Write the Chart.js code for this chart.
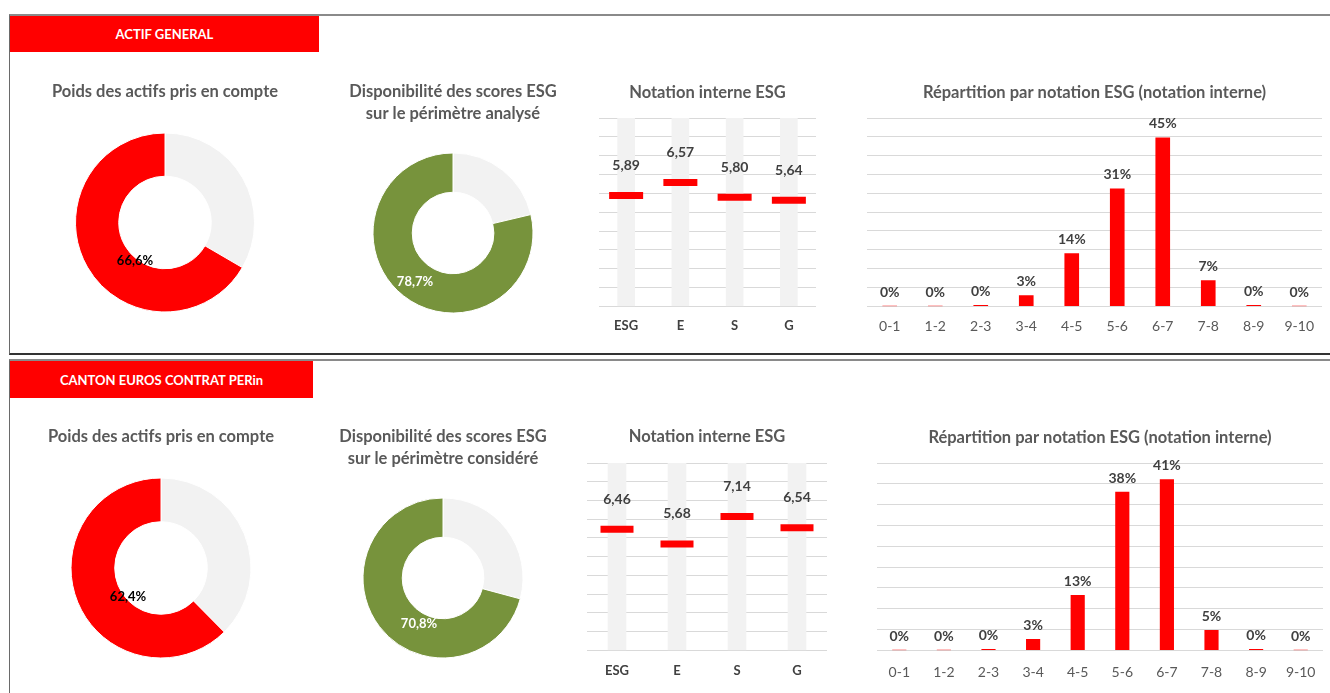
<!DOCTYPE html>
<html><head><meta charset="utf-8">
<script src="https://cdn.jsdelivr.net/npm/chart.js@4.4.1/dist/chart.umd.min.js"></script>
<style>
html,body{margin:0;padding:0;background:#fff;width:1330px;height:693px;overflow:hidden;font-family:Lato,sans-serif;}
.frame{position:absolute;box-sizing:border-box;}
.hdr{position:absolute;background:#ff0000;color:#fff;font:bold 13px Lato,sans-serif;display:flex;align-items:center;justify-content:center;}
.cv{position:absolute;}
</style></head><body>
<div class="frame" style="left:9px;top:14px;width:1340px;height:341px;border-top:2px solid #8a8a8a;border-left:1px solid #6a6a6a;border-bottom:2px solid #333;"></div>
<div class="frame" style="left:9px;top:359px;width:1340px;height:400px;border-top:2px solid #8a8a8a;border-left:1px solid #6a6a6a;"></div>
<div class="hdr" id="h0" style="left:10px;top:16px;width:309px;height:36px;"></div>
<div class="hdr" id="h1" style="left:10px;top:361px;width:303px;height:37px;"></div>

<div class="cv" style="left:20px;top:75px;width:290px;height:237px;"><canvas id="d1a"></canvas></div>
<div class="cv" style="left:338px;top:75px;width:230px;height:238px;"><canvas id="d2a"></canvas></div>
<div class="cv" style="left:591px;top:75px;width:233px;height:271px;"><canvas id="n_a"></canvas></div>
<div class="cv" style="left:857px;top:75px;width:475px;height:272px;"><canvas id="h_a"></canvas></div>

<div class="cv" style="left:16px;top:420px;width:290px;height:238px;"><canvas id="d1b"></canvas></div>
<div class="cv" style="left:328px;top:420px;width:230px;height:238px;"><canvas id="d2b"></canvas></div>
<div class="cv" style="left:579px;top:420px;width:256px;height:272px;"><canvas id="n_b"></canvas></div>
<div class="cv" style="left:867px;top:420px;width:466px;height:275px;"><canvas id="h_b"></canvas></div>

<script>
// ---------- DATA ----------
const panelNames = ['ACTIF GENERAL', 'CANTON EUROS CONTRAT PERin'];
const weightTitle = 'Poids des actifs pris en compte';
const availTitles = [['Disponibilité des scores ESG', 'sur le périmètre analysé'],
                     ['Disponibilité des scores ESG', 'sur le périmètre considéré']];
const scoreTitle = 'Notation interne ESG';
const distTitle = 'Répartition par notation ESG (notation interne)';

const weightCovered = [66.6, 62.4];        // % of assets taken into account
const scoreAvailability = [78.7, 70.8];    // % with ESG score available

const pillars = ['ESG', 'E', 'S', 'G'];
const scoreTrack = [10, 10, 10, 10];       // full-scale grey background columns
const scoresActif = [5.89, 6.57, 5.80, 5.64];
const scoresCanton = [6.46, 5.68, 7.14, 6.54];

const buckets = ['0-1', '1-2', '2-3', '3-4', '4-5', '5-6', '6-7', '7-8', '8-9', '9-10'];
const distActif = [0, 0, 0.002, 0.028, 0.14, 0.312, 0.447, 0.068, 0.002, 0];
const distCanton = [0, 0, 0.002, 0.026, 0.132, 0.38, 0.41, 0.048, 0.002, 0];

// ---------- STYLE ----------
const RED = '#ff0000', GREEN = '#77933c', LIGHT = '#f2f2f2', GRID = '#d9d9d9';
const TITLE_C = '#595959', LABEL_C = '#404040';
const FONT = 'Lato';
const TSIZE = 16.5;
document.getElementById('h0').textContent = panelNames[0];
document.getElementById('h1').textContent = panelNames[1];

const vlabels = {
  id: 'vlabels',
  afterDatasetsDraw(chart, args, o) {
    const ctx = chart.ctx;
    const meta = chart.getDatasetMeta(o.ds);
    const data = chart.data.datasets[o.ds].data;
    ctx.save();
    ctx.font = 'bold ' + o.size + 'px ' + FONT;
    ctx.fillStyle = o.color;
    ctx.textAlign = 'center';
    ctx.textBaseline = 'middle';
    meta.data.forEach((el, i) => {
      if (o.only !== undefined && o.only !== i) return;
      const v = data[i];
      let txt, x = el.x, y;
      if (o.kind === 'score') { txt = v.toFixed(2).replace('.', ','); y = el.y - o.dy; }
      else if (o.kind === 'pct') { txt = Math.round(v * 100) + '%'; y = el.y - o.dy; }
      else { txt = v.toFixed(1).replace('.', ',') + '%'; x = el.x + o.dx; y = el.y + o.dy; }
      ctx.fillText(txt, x, y);
    });
    ctx.restore();
  }
};

Chart.defaults.font.family = FONT;
Chart.defaults.animation = false;
Chart.defaults.events = [];

function titleOpt(text, top, bottom) {
  const two = Array.isArray(text);
  return { display: true, text, color: TITLE_C,
    font: { family: FONT, size: TSIZE, weight: 'bold', lineHeight: two ? 22 / TSIZE : 1.2 },
    padding: { top, bottom } };
}

function doughnut(id, value, color, lblColor, title, T, B, cutout, radius, dx, dy) {
  new Chart(document.getElementById(id), {
    type: 'doughnut',
    data: { labels: ['Non couvert', 'Couvert'],
      datasets: [{ data: [100 - value, value], backgroundColor: [LIGHT, color],
        borderColor: '#ffffff', borderWidth: 1, hoverOffset: 0, offset: 0 }] },
    options: { responsive: true, maintainAspectRatio: false, cutout, radius,
      layout: { padding: 0, autoPadding: false },
      plugins: { legend: { display: false }, tooltip: { enabled: false },
        title: titleOpt(title, T, B),
        vlabels: { ds: 0, only: 1, kind: 'pctd', size: 13, color: lblColor, dx, dy } } },
    plugins: [vlabels]
  });
}

function notation(id, values, T, B, tickPad, thick, mark) {
  new Chart(document.getElementById(id), {
    data: { labels: pillars, datasets: [
      { type: 'line', data: values, showLine: false, pointStyle: 'line', pointRadius: mark,
        pointBorderWidth: 7, pointBorderColor: RED, pointBackgroundColor: RED, borderColor: RED, order: 0 },
      { type: 'bar', data: scoreTrack, backgroundColor: LIGHT, barThickness: thick, order: 1 }
    ] },
    options: { responsive: true, maintainAspectRatio: false,
      layout: { padding: { left: 8, right: 8, top: 0, bottom: 0 }, autoPadding: false },
      scales: {
        x: { offset: true, grid: { display: false, drawTicks: false }, border: { display: false },
          ticks: { color: LABEL_C, font: { size: 13, weight: 'bold' }, padding: tickPad } },
        y: { min: 0, max: 10, ticks: { display: false, stepSize: 1 },
          grid: { color: GRID, drawTicks: false }, border: { display: false } } },
      plugins: { legend: { display: false }, tooltip: { enabled: false },
        title: titleOpt(scoreTitle, T, B),
        vlabels: { ds: 0, kind: 'score', size: 14, color: LABEL_C, dy: 30 } } },
    plugins: [vlabels]
  });
}

function histo(id, values, max, T, B, tickPad, thick) {
  new Chart(document.getElementById(id), {
    type: 'bar',
    data: { labels: buckets, datasets: [{ data: values, backgroundColor: RED, barThickness: thick }] },
    options: { responsive: true, maintainAspectRatio: false,
      layout: { padding: { left: 10, right: 10, top: 0, bottom: 0 }, autoPadding: false },
      scales: {
        x: { grid: { display: false, drawTicks: false }, border: { display: false },
          ticks: { color: TITLE_C, font: { size: 14 }, padding: tickPad } },
        y: { min: 0, max, ticks: { display: false, stepSize: 0.05 },
          grid: { color: GRID, drawTicks: false }, border: { display: false } } },
      plugins: { legend: { display: false }, tooltip: { enabled: false },
        title: titleOpt(distTitle, T, B),
        vlabels: { ds: 0, kind: 'pct', size: 14, color: LABEL_C, dy: 14 } } },
    plugins: [vlabels]
  });
}

doughnut('d1a', weightCovered[0], RED, '#000', weightTitle, 7, 31.2, 46, 89.5, -30, 38);
doughnut('d2a', scoreAvailability[0], GREEN, '#fff', availTitles[0], 6, 28, 40.5, 80, -38, 49);
notation('n_a', scoresActif, 8, 15.2, 12, 17, 17);
histo('h_a', distActif, 0.5, 8, 15.2, 12, 14);

doughnut('d1b', weightCovered[1], RED, '#000', weightTitle, 7, 31.2, 46, 90, -33, 29);
doughnut('d2b', scoreAvailability[1], GREEN, '#fff', availTitles[1], 6, 28, 40.5, 80, -24, 46);
notation('n_b', scoresCanton, 7, 16.2, 13, 18, 16.5);
histo('h_b', distCanton, 0.45, 8, 15.2, 14, 13.5);
</script>
</body></html>
